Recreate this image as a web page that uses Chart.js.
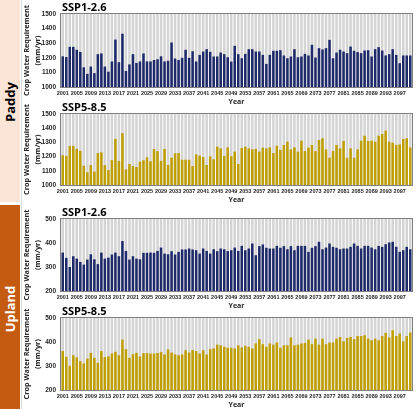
<!DOCTYPE html>
<html><head><meta charset="utf-8">
<script src="https://cdn.jsdelivr.net/npm/chart.js@4.4.0/dist/chart.umd.min.js"></script>
<style>
html,body{margin:0;padding:0;background:#fff;}
body{width:416px;height:409px;position:relative;overflow:hidden;font-family:"Open Sans",sans-serif;}
.strip{position:absolute;left:0;width:20px;}
.lbl{position:absolute;left:10px;transform:translate(-50%,-50%) rotate(-90deg);font-weight:bold;font-size:13px;white-space:nowrap;}
canvas{position:absolute;left:22px;}
</style></head><body>
<div class="strip" style="top:0;height:202px;background:#fbe5d6"></div>
<div class="strip" style="top:205px;height:204px;background:#c55a11"></div>
<div style="position:absolute;left:21px;top:0;width:1px;height:409px;background:#d9d9d9"></div>
<div class="lbl" style="top:102px;color:#000">Paddy</div>
<div class="lbl" style="top:309px;color:#fff">Upland</div>
<canvas id="c1" width="394" height="106" style="top:0px"></canvas>
<canvas id="c2" width="394" height="104" style="top:100px"></canvas>
<canvas id="c3" width="394" height="105" style="top:205px"></canvas>
<canvas id="c4" width="394" height="105" style="top:304px"></canvas>
<script>
const years = Array.from({length:100}, (_, i) => String(2001 + i));
const xTickLabels = ['2001','2005','2009','2013','2017','2021','2025','2029','2033','2037','2041','2045','2049','2053','2057','2061','2065','2069','2073','2077','2081','2085','2089','2093','2097'];
const paddyTicks = [1000,1100,1200,1300,1400,1500];
const uplandTicks = [200,300,400,500];

const paddySSP126 = [1210,1205,1275,1275,1255,1240,1135,1090,1140,1095, 1225,1230,1140,1105,1175,1325,1170,1365,1110,1155, 1225,1165,1175,1230,1175,1175,1185,1190,1210,1175, 1180,1305,1195,1185,1200,1255,1200,1245,1175,1220,
 1243,1259,1241,1209,1209,1236,1225,1204,1174,1282, 1225,1197,1227,1259,1259,1243,1243,1220,1158,1220, 1248,1248,1252,1216,1197,1209,1259,1204,1209,1227, 1216,1289,1202,1266,1257,1266,1323,1197,1236,1255, 1243,1232,1277,1248,1239,1232,1250,1252,1209,1259, 1273,1250,1216,1225,1259,1220,1163,1216,1216,1216];
const paddySSP585 = [1210,1205,1275,1275,1255,1240,1135,1090,1140,1095, 1225,1230,1140,1105,1175,1325,1170,1365,1110,1148, 1134,1127,1164,1174,1195,1167,1254,1239,1171,1254, 1141,1192,1223,1225,1178,1178,1178,1134,1216,
 1207,1197,1141,1202,1181,1270,1258,1204,1265,1202, 1235,1148,1261,1270,1258,1251,1254,1235,1263,1258, 1265,1225,1277,1247,1282,1305,1251,1265,1235,1312, 1239,1263,1282,1239,1317,1329,1251,1192,1239,1282, 1258,1310,1192,1258,1192,1251,1312,1347,1310,1312, 1305,1347,1359,1383,1305,1298,1282,1286,1324,1329, 1265];
const uplandSSP126 = [360,338,300,345,335,321,310,331,353,332, 312,360,335,339,352,360,345,408,367,331, 345,335,332,359,359,360,359,367,381,356, 353,366,352,363,373,373,377,373,370,
 356,377,367,356,374,366,377,374,366,370, 381,367,388,370,377,398,349,387,394,380, 377,377,388,380,387,374,387,370,388,388, 388,363,380,387,405,374,381,398,384,380, 374,377,377,384,398,388,377,388,388,381, 374,388,384,395,402,405,384,363,370,384, 374];
const uplandSSP585 = [362,338,301,345,336,320,311,331,355,334, 313,362,337,340,352,359,345,410,370,334, 349,355,340,354,354,352,352,354,358,348, 369,356,349,345,348,366,356,366,362,
 352,366,348,370,373,389,386,380,376,376, 373,386,377,384,380,373,394,412,391,380, 394,389,398,376,386,386,419,386,389,394, 396,410,391,414,389,414,391,398,398,414, 421,403,417,421,412,425,425,428,414,407, 414,407,425,438,419,449,425,435,403,425, 439];

const NAVY = '#1e2a69', GOLD = '#bf9e00', BG = '#d4d4d4';
const FONT = '"Open Sans", sans-serif';
const SANS = '"Liberation Sans", Arial, sans-serif';

const framePlugin = {
  id: 'framePlugin',
  afterDraw(chart, args, opts) {
    const {ctx, chartArea: a} = chart;
    ctx.save();
    ctx.strokeStyle = '#7f7f7f';
    ctx.lineWidth = 1;
    ctx.strokeRect(Math.round(a.left) - 0.5, Math.round(a.top) - 0.5, Math.round(a.right - a.left) + 1, Math.round(a.bottom - a.top) + 1);
    ctx.fillStyle = '#000';
    ctx.font = 'bold 11px ' + FONT;
    ctx.textBaseline = 'bottom';
    ctx.textAlign = 'left';
    ctx.fillText(opts.text, a.left + 1, a.top - 1);
    ctx.restore();
  }
};

function makeChart(id, title, values, color, yTicks) {
  const yMin = yTicks[0], yMax = yTicks[yTicks.length - 1];
  new Chart(document.getElementById(id), {
    type: 'bar',
    data: {
      labels: years,
      datasets: [
        {data: values, backgroundColor: color, borderWidth: 0, grouped: false, order: 1, barPercentage: 0.72, categoryPercentage: 1},
        {data: years.map(() => yMax), backgroundColor: BG, borderWidth: 0, grouped: false, order: 2, barPercentage: 0.72, categoryPercentage: 1}
      ]
    },
    options: {
      responsive: false, animation: false,
      layout: {padding: {top: 14, right: 4, left: 0, bottom: 0}},
      plugins: {legend: {display: false}, tooltip: {enabled: false}, framePlugin: {text: title}},
      scales: {
        x: {
          grid: {display: false, drawTicks: false}, border: {display: false},
          ticks: {autoSkip: false, maxRotation: 0, minRotation: 0, padding: 3,
            font: {size: 5.5, weight: 'bold', family: SANS}, color: '#262626',
            callback: (v, i) => xTickLabels.includes(years[i]) ? years[i] : ''},
          title: {display: true, text: 'Year', font: {size: 7, weight: 'bold', family: FONT}, color: '#262626', padding: 0},
          afterFit: s => { s.height = 19; }
        },
        y: {
          min: yMin, max: yMax,
          afterBuildTicks: s => { s.ticks = yTicks.map(v => ({value: v})); },
          grid: {display: false, drawTicks: false}, border: {display: false},
          ticks: {padding: 5, font: {size: 6.5, weight: 'bold', family: SANS}, color: '#262626', callback: v => String(v)},
          title: {display: true, text: ['Crop Water Requirement', '(mm/yr)'], font: {size: 7.3, weight: 'bold', family: FONT, lineHeight: 1.45}, color: '#262626', padding: {top: 0, bottom: 0}},
          afterFit: s => { s.width = 39; }
        }
      }
    },
    plugins: [framePlugin]
  });
}

makeChart('c1', 'SSP1-2.6', paddySSP126, NAVY, paddyTicks);
makeChart('c2', 'SSP5-8.5', paddySSP585, GOLD, paddyTicks);
makeChart('c3', 'SSP1-2.6', uplandSSP126, NAVY, uplandTicks);
makeChart('c4', 'SSP5-8.5', uplandSSP585, GOLD, uplandTicks);
</script>
</body></html>
